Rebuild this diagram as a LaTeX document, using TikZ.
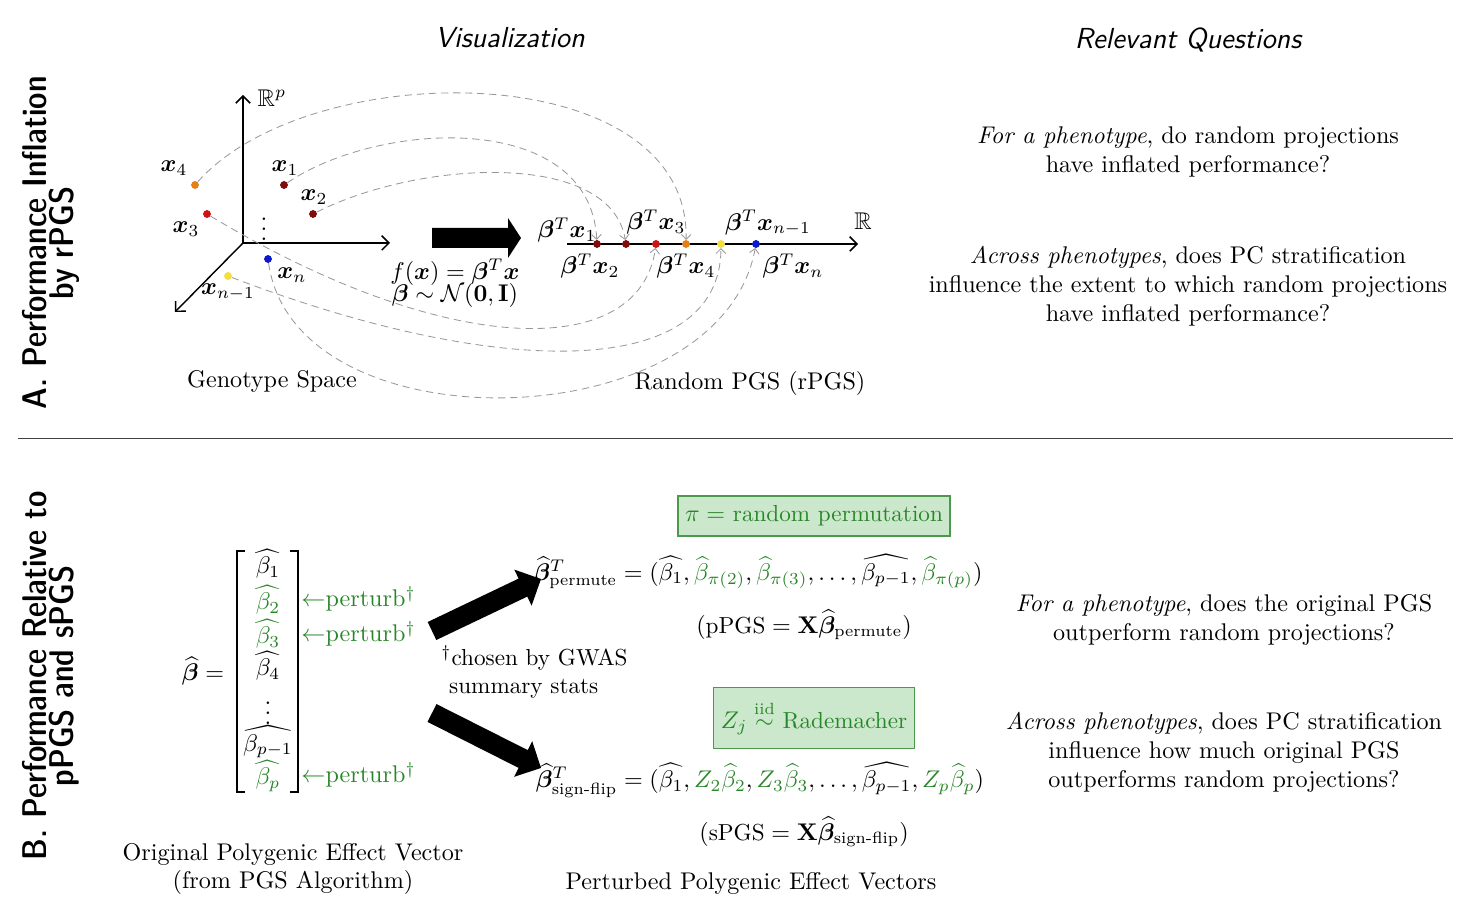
\documentclass[tikz,border=0pt]{standalone}
\usepackage{amsmath,amssymb,bm}
\usetikzlibrary{arrows.meta}
\definecolor{gr}{rgb}{0.16,0.52,0.16}
\definecolor{boxfill}{rgb}{0.80,0.91,0.80}
\definecolor{boxdraw}{rgb}{0.30,0.60,0.30}
\definecolor{dred}{rgb}{0.50,0.05,0.05}
\definecolor{mred}{rgb}{0.80,0.08,0.08}
\definecolor{dorange}{rgb}{0.90,0.50,0.10}
\definecolor{dyellow}{rgb}{0.96,0.87,0.25}
\definecolor{dblue}{rgb}{0.05,0.10,0.80}
\begin{document}
\begin{tikzpicture}[x=0.4144pt,y=-0.4144pt,
  dot/.style={circle,inner sep=0pt,minimum size=3pt},
  curve/.style={gray!80,line width=0.35pt,dash pattern=on 3pt off 2pt,-{Straight Barb[length=2pt,width=4pt]}},
  axis/.style={line width=0.6pt,-{Straight Barb[length=3pt,width=6pt]}},
  header/.style={font=\large\sffamily\itshape},
  side/.style={rotate=90,align=center,font={\fontsize{14.2}{11}\sffamily\fontseries{sbc}\selectfont}},
  qtext/.style={align=center},
  small/.style={font=\fontsize{9.6}{11.5}\selectfont},
  gbox/.style={draw=boxdraw,fill=boxfill,text=gr,line width=0.6pt,inner xsep=3pt,inner ysep=4pt,font=\fontsize{9.6}{11.5}\selectfont},
  bigarrow/.style={fill=black}]
\useasboundingbox (0,0) rectangle (1476,924);

% headers
\node[header] (hv) at (510,38) {Visualization};
\node[header] (hq) at (1188,40) {Relevant Questions};

% side labels
\node[side] (sa) at (51,243) {A. Performance Inflation\\by rPGS};
\node[side] (sb) at (51,676) {B. Performance Relative to\\pPGS and sPGS};

% separator
\coordinate (s0) at (18,438);
\coordinate (s1) at (1453,438);
\draw[line width=0.4pt,black!75] (s0) -- (s1);

% ---------------- Part A ----------------
\coordinate (O) at (243,243);
\coordinate (Ay) at (243,95);
\coordinate (Ax) at (390,243);
\coordinate (Az) at (175,312);
\draw[axis] (O) -- (Ay);
\draw[axis] (O) -- (Ax);
\draw[axis] (O) -- (Az);
\node (Rp) at (272,98) {$\mathbb{R}^p$};
\node (vd) at (264,222) {$\vdots$};

% points in genotype space
\node[dot,fill=dorange] (p4) at (195,185) {};
\node[dot,fill=dred] (p1) at (284,185) {};
\node[dot,fill=dred] (p2) at (313,214) {};
\node[dot,fill=mred] (p3) at (207,214) {};
\node[dot,fill=dyellow] (pm) at (228,276) {};
\node[dot,fill=dblue] (pn) at (268,259) {};
\node (l4) at (174,168) {$\bm{x}_4$};
\node (l1) at (285,168) {$\bm{x}_1$};
\node (l2) at (314,197) {$\bm{x}_2$};
\node (l3) at (186,229) {$\bm{x}_3$};
\node (lm) at (228,292) {$\bm{x}_{n-1}$};
\node (ln) at (292,275) {$\bm{x}_n$};

% real line
\coordinate (L0) at (567,244);
\coordinate (L1) at (858,244);
\draw[axis] (L0) -- (L1);
\node (RR) at (863,221) {$\mathbb{R}$};

\node[dot,fill=dred] (q1) at (597,244) {};
\node[dot,fill=dred] (q2) at (626,244) {};
\node[dot,fill=mred] (q3) at (656,244) {};
\node[dot,fill=dorange] (q4) at (686,244) {};
\node[dot,fill=dyellow] (qm) at (721,244) {};
\node[dot,fill=dblue] (qn) at (756,244) {};
\node (ql1) at (567,230) {$\bm\beta^T\bm{x}_1$};
\node (ql3) at (656,222) {$\bm\beta^T\bm{x}_3$};
\node (qlm) at (768,223) {$\bm\beta^T\bm{x}_{n-1}$};
\node (ql2) at (590,266) {$\bm\beta^T\bm{x}_2$};
\node (ql4) at (686,266) {$\bm\beta^T\bm{x}_4$};
\node (qln) at (793,266) {$\bm\beta^T\bm{x}_n$};

% dashed mappings
\draw[curve] (p4) .. controls (310,55) and (690,55) .. (q4);
\draw[curve] (p1) .. controls (380,120) and (590,110) .. (q1);
\draw[curve] (p2) .. controls (420,160) and (610,150) .. (q2);
\draw[curve] (p3) .. controls (450,360) and (640,360) .. (q3);
\draw[curve] (pm) .. controls (500,380) and (720,380) .. (qm);
\draw[curve] (pn) .. controls (295,450) and (720,440) .. (qn);
% redraw dots on top
\foreach \n/\c in {p4/dorange,p1/dred,p2/dred,p3/mred,pm/dyellow,pn/dblue,q1/dred,q2/dred,q3/mred,q4/dorange,qm/dyellow,qn/dblue}
  \fill[\c] (\n.center) circle (1.6pt);

% big arrow
\fill[bigarrow] (432,228) -- (508,228) -- (508,218) -- (521,238) -- (508,258) -- (508,248) -- (432,248) -- cycle;
\node (f1) at (455,272) {$f(\bm{x}) = \bm\beta^T\bm{x}$};
\node (f2) at (455,295) {$\bm\beta\sim\mathcal{N}(\mathbf{0},\mathbf{I})$};

\node (gs) at (272,381) {Genotype Space};
\node (rp) at (750,383) {Random PGS (rPGS)};

% questions A
\node[qtext] (qa1) at (1188,152) {\textit{For a phenotype}, do random projections\\have inflated performance?};
\node[qtext] (qa2) at (1188,286) {\textit{Across phenotypes}, does PC stratification\\influence the extent to which random projections\\have inflated performance?};

% ---------------- Part B ----------------
\node (bh) at (203,671) {$\widehat{\bm\beta} =$};
% brackets
\draw[line width=0.7pt] (245,551) -- (237,551) -- (237,792) -- (245,792);
\draw[line width=0.7pt] (290,551) -- (298,551) -- (298,792) -- (290,792);
\node (e1) at (268,564) {$\widehat{\beta_1}$};
\node[text=gr] (e2) at (268,600) {$\widehat{\beta_2}$};
\node[text=gr] (e3) at (268,634) {$\widehat{\beta_3}$};
\node (e4) at (268,666) {$\widehat{\beta_4}$};
\node (e5) at (268,706) {$\vdots$};
\node (e6) at (268,742) {$\widehat{\beta_{p-1}}$};
\node[text=gr] (e7) at (268,776) {$\widehat{\beta_p}$};
\node[text=gr,anchor=west,inner xsep=0pt] (pt1) at (301,599) {$\leftarrow$perturb$^\dagger$};
\node[text=gr,anchor=west,inner xsep=0pt] (pt2) at (301,634) {$\leftarrow$perturb$^\dagger$};
\node[text=gr,anchor=west,inner xsep=0pt] (pt3) at (301,775) {$\leftarrow$perturb$^\dagger$};

% diagonal arrows
\fill[bigarrow] (427.7,622.0) -- (518.6,578.6) -- (514.3,569.6) -- (541,579) -- (531.6,605.7) -- (527.3,596.6) -- (436.3,640.0) -- cycle;
\fill[bigarrow] (436.5,704.1) -- (527.7,750.1) -- (532.2,741.1) -- (541,768) -- (514.1,776.8) -- (518.6,767.9) -- (427.5,721.9) -- cycle;

\node[small,anchor=west,align=left,inner xsep=0pt] (gw) at (441,672) {$^\dagger$chosen by GWAS\\\hspace*{3.2pt}summary stats};

\node[gbox] (box1) at (814,516) {$\pi =$ random permutation};
\node[small] (eq1) at (758,572) {$\widehat{\bm\beta}^T_{\text{permute}} = (\widehat{\beta_1}, \textcolor{gr}{\widehat{\beta}_{\pi(2)}}, \textcolor{gr}{\widehat{\beta}_{\pi(3)}}, \ldots, \widehat{\beta_{p-1}}, \textcolor{gr}{\widehat{\beta}_{\pi(p)}})$};
\node[small] (pp) at (804,625) {$(\text{pPGS} = \mathbf{X}\widehat{\bm\beta}_{\text{permute}})$};

\node[gbox,inner ysep=5.5pt] (box2) at (814,718) {$Z_j \overset{\text{iid}}{\sim}$ Rademacher};
\node[small] (eq2) at (760,780) {$\widehat{\bm\beta}^T_{\text{sign-flip}} = (\widehat{\beta_1}, \textcolor{gr}{Z_2\widehat{\beta}_2}, \textcolor{gr}{Z_3\widehat{\beta}_3}, \ldots, \widehat{\beta_{p-1}}, \textcolor{gr}{Z_p\widehat{\beta}_p})$};
\node[small] (sp) at (804,832) {$(\text{sPGS} = \mathbf{X}\widehat{\bm\beta}_{\text{sign-flip}})$};

\node[align=center] (ov) at (293,869) {Original Polygenic Effect Vector\\(from PGS Algorithm)};
\node (pv) at (751,883) {Perturbed Polygenic Effect Vectors};

% questions B
\node[qtext] (qb1) at (1224,620) {\textit{For a phenotype}, does the original PGS\\outperform random projections?};
\node[qtext] (qb2) at (1224,752) {\textit{Across phenotypes}, does PC stratification\\influence how much original PGS\\outperforms random projections?};
\end{tikzpicture}
\end{document}
